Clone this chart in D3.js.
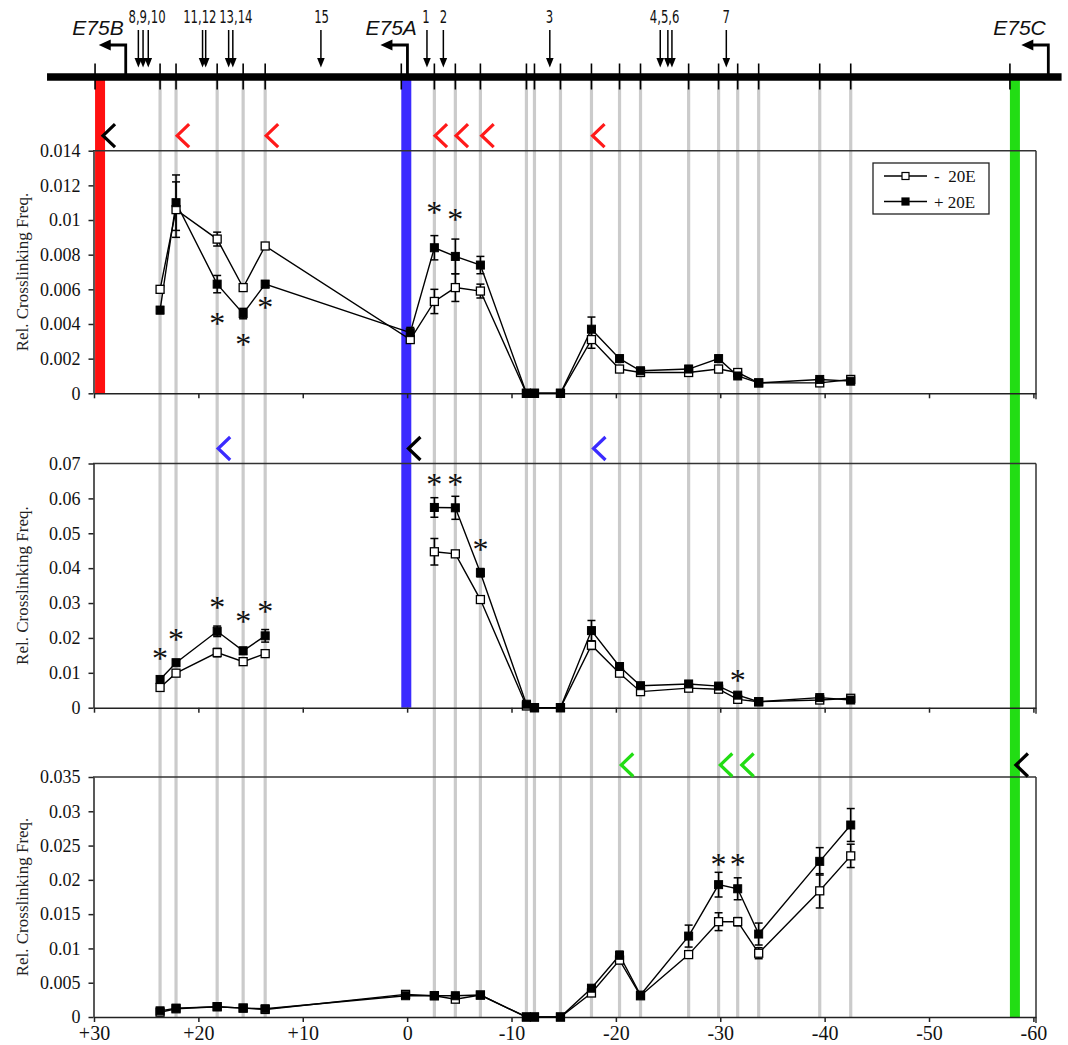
<!DOCTYPE html>
<html><head><meta charset="utf-8">
<script src="https://cdn.jsdelivr.net/npm/d3@7"></script>
<style>body{margin:0;background:#fff} svg{display:block}</style>
</head><body>
<svg id="c" width="1068" height="1045"></svg>
<script>
// ---------- DATA ----------
// restriction fragment positions (kb)
const fragPos = [23.67, 22.14, 18.20, 15.71, 13.60, -2.61, -4.62, -7.02, -11.43, -12.20, -14.69,
  -17.66, -20.35, -22.36, -26.97, -29.84, -31.67, -33.68, -39.53, -42.50];
// anchor fragments (kb) per panel
const anchorPos = [29.42, 0.08, -58.23];
const anchorColors = ["#ff1010", "#3b2bff", "#22dd14"];
// promoters
const promoterNames = ["E75B", "E75A", "E75C"];
const promoterTss = [26.96, -0.03, -61.43];
const promoterLabelPos = [29.62, 1.53, -58.67];
// numbered arrows on the gene map
const arrowLabels = ["8,9,10", "11,12", "13,14", "15", "1", "2", "3", "4,5,6", "7"];
const arrowLabelPos = [24.92, 19.86, 16.41, 8.2, -1.8, -3.47, -13.64, -24.67, -30.58];
const arrowPos = [[25.75, 25.3, 24.8], [19.6, 19.3], [17.1, 16.7], [8.26], [-1.9], [-3.47], [-13.67], [-24.25, -24.98, -25.37], [-30.58]];

// x positions of measured points (kb) per panel
const pos1 = [23.67, 22.14, 18.20, 15.71, 13.60, -0.3, -2.61, -4.62, -7.02, -11.43, -12.20, -14.69, -17.66, -20.35, -22.36, -26.97, -29.84, -31.67, -33.68, -39.53, -42.50];
const pos2 = [23.67, 22.14, 18.20, 15.71, 13.60, 0, -2.61, -4.62, -7.02, -11.43, -12.20, -14.69, -17.66, -20.35, -22.36, -26.97, -29.84, -31.67, -33.68, -39.53, -42.50];
const pos3 = [23.67, 22.14, 18.20, 15.71, 13.60, 0.15, -2.61, -4.62, -7.02, -11.43, -12.20, -14.69, -17.66, -20.35, -22.36, -26.97, -29.84, -31.67, -33.68, -39.53, -42.50];

// Panel 1 (anchor E75B)
const minus1 = [0.0060, 0.0106, 0.0089, 0.0061, 0.0085, 0.0031, 0.0053, 0.0061, 0.0059, 0, 0, 0, 0.0031, 0.0014, 0.0012, 0.0012, 0.0014, 0.0012, 0.0006, 0.0006, 0.0008];
const minusErr1 = [0.0002, 0.0016, 0.0004, 0.0001, 0.0001, 0.0002, 0.0007, 0.0008, 0.0004, 0, 0, 0, 0.0005, 0.0001, 0.0001, 0.0001, 0.0002, 0.0001, 0.0001, 0.0001, 0.0001];
const plus1 = [0.0048, 0.0110, 0.0063, 0.0046, 0.0063, 0.0035, 0.0084, 0.0079, 0.0074, 0, 0, 0, 0.0037, 0.0020, 0.0013, 0.0014, 0.0020, 0.0010, 0.0006, 0.0008, 0.0007];
const plusErr1 = [0.0002, 0.0016, 0.0005, 0.0003, 0.0002, 0.0003, 0.0007, 0.0010, 0.0005, 0, 0, 0, 0.0007, 0.0002, 0.0001, 0.0002, 0.0002, 0.0001, 0.0001, 0.0001, 0.0001];
// Panel 2 (anchor E75A)
const minus2 = [0.0058, 0.0099, 0.0158, 0.0132, 0.0155, null, 0.0447, 0.0441, 0.0310, 0.0005, 0, 0, 0.0179, 0.0099, 0.0046, 0.0056, 0.0053, 0.0024, 0.0017, 0.0022, 0.0027];
const minusErr2 = [0.0004, 0.0004, 0.0012, 0.0004, 0.0004, null, 0.0038, 0.0005, 0.0004, 0, 0, 0, 0.0012, 0.0005, 0.0003, 0.0003, 0.0004, 0.0004, 0.0002, 0.0003, 0.0003];
const plus2 = [0.0081, 0.0129, 0.0219, 0.0163, 0.0206, null, 0.0574, 0.0573, 0.0387, 0.0010, 0, 0, 0.0221, 0.0118, 0.0063, 0.0068, 0.0062, 0.0036, 0.0017, 0.0029, 0.0022];
const plusErr2 = [0.0008, 0.0007, 0.0015, 0.0010, 0.0018, null, 0.0028, 0.0033, 0.0012, 0.0003, 0, 0, 0.0029, 0.0007, 0.0006, 0.0008, 0.0006, 0.0006, 0.0002, 0.0004, 0.0003];
// Panel 3 (anchor E75C)
const minus3 = [0.0007, 0.0012, 0.0015, 0.0013, 0.0011, 0.0033, 0.0031, 0.0026, 0.0032, 0, 0, 0, 0.0035, 0.0083, 0.0031, 0.0091, 0.0139, 0.0139, 0.0093, 0.0184, 0.0235];
const minusErr3 = [0.0002, 0.0002, 0.0002, 0.0002, 0.0001, 0.0003, 0.0002, 0.0004, 0.0003, 0, 0, 0, 0.0003, 0.0005, 0.0002, 0.0004, 0.0013, 0.0006, 0.0008, 0.0025, 0.0017];
const plus3 = [0.0009, 0.0013, 0.0015, 0.0013, 0.0012, 0.0031, 0.0031, 0.0031, 0.0032, 0, 0, 0, 0.0042, 0.0090, 0.0032, 0.0118, 0.0193, 0.0187, 0.0121, 0.0227, 0.0280];
const plusErr3 = [0.0002, 0.0002, 0.0002, 0.0002, 0.0001, 0.0003, 0.0002, 0.0003, 0.0002, 0, 0, 0, 0.0004, 0.0006, 0.0002, 0.0016, 0.0018, 0.0016, 0.0016, 0.0020, 0.0024];

// significance asterisks (kb, value at asterisk centre)
const astPos1 = [18.20, 15.71, 13.60, -2.61, -4.62];
const astVal1 = [0.0043, 0.0031, 0.0052, 0.0107, 0.0103];
const astPos2 = [23.67, 22.14, 18.20, 15.71, 13.60, -2.61, -4.62, -7.02, -31.67];
const astVal2 = [0.0154, 0.0208, 0.0301, 0.0259, 0.0289, 0.0652, 0.0652, 0.0466, 0.0092];
const astPos3 = [-29.84, -31.67];
const astVal3 = [0.0229, 0.0229];

// chevrons (kb) and colours per panel
const chevPos1 = [28.56, 21.46, 12.93, -3.25, -5.26, -7.72, -18.34];
const chevCol1 = ["#000", "#ff1a1a", "#ff1a1a", "#ff1a1a", "#ff1a1a", "#ff1a1a", "#ff1a1a"];
const chevPos2 = [17.53, -0.7, -18.43];
const chevCol2 = ["#3b2bff", "#000", "#3b2bff"];
const chevPos3 = [-21.09, -30.58, -32.63, -58.9];
const chevCol3 = ["#22dd14", "#22dd14", "#22dd14", "#000"];

const yMax = [0.014, 0.07, 0.035];
const yStep = [0.002, 0.01, 0.005];
const xTicks = [30, 20, 10, 0, -10, -20, -30, -40, -50, -60];
const seriesNames = ["-\u00A0 20E", "+ 20E"];

// ---------- DRAWING ----------
const svg = d3.select("#c");
const serif = "'Liberation Serif','Times New Roman',serif";
const x = d3.scaleLinear().domain([30, -60.25]).range([94, 1036]);
const tops = [150.7, 463.5, 777];
const bottoms = [393.3, 707.7, 1017];
const geneY = 77;

const panels = [
  {pos: pos1, minus: minus1, minusErr: minusErr1, plus: plus1, plusErr: plusErr1, astP: astPos1, astV: astVal1, chevP: chevPos1, chevC: chevCol1, chevDy: 15},
  {pos: pos2, minus: minus2, minusErr: minusErr2, plus: plus2, plusErr: plusErr2, astP: astPos2, astV: astVal2, chevP: chevPos2, chevC: chevCol2, chevDy: 15},
  {pos: pos3, minus: minus3, minusErr: minusErr3, plus: plus3, plusErr: plusErr3, astP: astPos3, astV: astVal3, chevP: chevPos3, chevC: chevCol3, chevDy: 12}
];

// grey fragment lines
svg.append("g").selectAll("line").data(fragPos).join("line")
  .attr("x1", d => x(d)).attr("x2", d => x(d))
  .attr("y1", geneY + 3).attr("y2", bottoms[2])
  .attr("stroke", "#cbcbcb").attr("stroke-width", 3.2);

// anchor bars
svg.append("g").selectAll("rect").data(anchorPos).join("rect")
  .attr("x", d => x(d) - 5).attr("width", 10)
  .attr("y", geneY + 3).attr("height", (d, i) => bottoms[i] - geneY - 3)
  .attr("fill", (d, i) => anchorColors[i]);

panels.forEach((p, i) => {
  const y = d3.scaleLinear().domain([0, yMax[i]]).range([bottoms[i], tops[i]]);
  const g = svg.append("g");
  // box top and right
  g.append("line").attr("x1", x.range()[0] - 1).attr("x2", x.range()[1]).attr("y1", tops[i]).attr("y2", tops[i])
    .attr("stroke", "#333").attr("stroke-width", 1.5);
  g.append("line").attr("x1", x.range()[1]).attr("x2", x.range()[1]).attr("y1", tops[i]).attr("y2", bottoms[i] + 6)
    .attr("stroke", "#333").attr("stroke-width", 1.5);
  // y axis
  const ticks = d3.range(0, yMax[i] + yStep[i] / 2, yStep[i]);
  const ya = g.append("g").attr("transform", `translate(${x.range()[0] - 0.5},0)`)
    .call(d3.axisLeft(y).tickValues(ticks).tickSize(5).tickSizeOuter(0).tickPadding(8)
      .tickFormat(d => String(+d.toFixed(4))));
  ya.attr("font-family", serif).attr("font-size", 18);
  ya.selectAll("path,line").attr("stroke", "#222").attr("stroke-width", 1.5);
  ya.selectAll("text").attr("fill", "#111");
  // x axis
  const xa = g.append("g").attr("transform", `translate(0,${bottoms[i]})`)
    .call(d3.axisBottom(x).tickValues(xTicks).tickSize(5).tickSizeOuter(0).tickPadding(4)
      .tickFormat(d => i === 2 ? (d > 0 ? "+" + d : String(d)) : ""));
  xa.attr("font-family", serif).attr("font-size", 20);
  xa.selectAll("path,line").attr("stroke", "#222").attr("stroke-width", 1.5);
  xa.selectAll("text").attr("fill", "#111");
  // y title
  g.append("text").attr("transform", `translate(22,${(tops[i] + bottoms[i]) / 2}) rotate(-90)`)
    .attr("text-anchor", "middle").attr("dominant-baseline", "central")
    .attr("font-family", serif).attr("font-size", 17).attr("fill", "#222")
    .text("Rel. Crosslinking Freq.");

  const mk = (vals, errs) => p.pos.map((d, k) => ({p: d, v: vals[k], e: errs[k]}));
  const sets = [mk(p.minus, p.minusErr), mk(p.plus, p.plusErr)];
  const line = d3.line().defined(d => d.v != null).x(d => x(d.p)).y(d => y(d.v));
  sets.forEach(s => {
    g.append("path").datum(s).attr("d", line).attr("fill", "none").attr("stroke", "#000").attr("stroke-width", 1.4);
  });
  // error bars
  sets.forEach(s => {
    const eb = g.append("g").selectAll("g").data(s.filter(d => d.v != null && d.e > 0)).join("g");
    eb.append("line").attr("x1", d => x(d.p)).attr("x2", d => x(d.p))
      .attr("y1", d => y(d.v - d.e)).attr("y2", d => y(d.v + d.e)).attr("stroke", "#000").attr("stroke-width", 1.5);
    [-1, 1].forEach(sg => {
      eb.append("line").attr("x1", d => x(d.p) - 4).attr("x2", d => x(d.p) + 4)
        .attr("y1", d => y(d.v + sg * d.e)).attr("y2", d => y(d.v + sg * d.e))
        .attr("stroke", "#000").attr("stroke-width", 1.5);
    });
  });
  // markers
  g.append("g").selectAll("rect").data(sets[0].filter(d => d.v != null)).join("rect")
    .attr("x", d => x(d.p) - 4).attr("y", d => y(d.v) - 4).attr("width", 8).attr("height", 8)
    .attr("fill", "#fff").attr("stroke", "#000").attr("stroke-width", 1.3);
  g.append("g").selectAll("rect").data(sets[1].filter(d => d.v != null)).join("rect")
    .attr("x", d => x(d.p) - 4).attr("y", d => y(d.v) - 4).attr("width", 8).attr("height", 8)
    .attr("fill", "#000").attr("stroke", "#000").attr("stroke-width", 1);
  // asterisks
  g.append("g").selectAll("text").data(p.astP).join("text")
    .attr("x", d => x(d)).attr("y", (d, k) => y(p.astV[k]) + 15)
    .attr("text-anchor", "middle").attr("font-family", serif).attr("font-size", 32).attr("fill", "#111")
    .text("*");
  // chevrons
  g.append("g").selectAll("path").data(p.chevP).join("path")
    .attr("d", d => { const cx = x(d), cy = tops[i] - p.chevDy; return `M${cx + 6},${cy - 11.5}L${cx - 6},${cy}L${cx + 6},${cy + 11.5}`; })
    .attr("fill", "none").attr("stroke", (d, k) => p.chevC[k]).attr("stroke-width", 3.2);

  if (i === 0) {
    const lg = g.append("g");
    lg.append("rect").attr("x", 873).attr("y", 163).attr("width", 116).attr("height", 51)
      .attr("fill", "#fff").attr("stroke", "#222").attr("stroke-width", 1.3);
    seriesNames.forEach((nm, k) => {
      const ly = 176 + k * 25.5;
      lg.append("line").attr("x1", 884).attr("x2", 927).attr("y1", ly).attr("y2", ly).attr("stroke", "#000").attr("stroke-width", 1.4);
      lg.append("rect").attr("x", 902).attr("y", ly - 3.5).attr("width", 7).attr("height", 7)
        .attr("fill", k === 0 ? "#fff" : "#000").attr("stroke", "#000").attr("stroke-width", 1.2);
      lg.append("text").attr("x", 934).attr("y", ly + 6).attr("font-family", serif).attr("font-size", 17)
        .attr("fill", "#111").text(nm);
    });
  }
});

// gene line
svg.append("line").attr("x1", x(34.5)).attr("x2", x(-62.7)).attr("y1", geneY).attr("y2", geneY)
  .attr("stroke", "#000").attr("stroke-width", 7.5);
// gene ticks
const tickPos = fragPos.concat(anchorPos);
svg.append("g").selectAll("line").data(tickPos).join("line")
  .attr("x1", (d, k) => x(d) - (k >= fragPos.length ? 5 : 0)).attr("x2", (d, k) => x(d) - (k >= fragPos.length ? 5 : 0))
  .attr("y1", geneY - 13.5).attr("y2", geneY + 12.5).attr("stroke", "#000").attr("stroke-width", 1.6);

// numbered arrows
const arr = svg.append("g");
arrowPos.forEach((grp, gi) => {
  grp.forEach(a => {
    const ax = x(a);
    arr.append("line").attr("x1", ax).attr("x2", ax).attr("y1", 30).attr("y2", 60).attr("stroke", "#000").attr("stroke-width", 1.5);
    arr.append("path").attr("d", `M${ax - 3.8},58L${ax + 3.8},58L${ax},67.5Z`).attr("fill", "#000");
  });
  arr.append("text").attr("transform", `translate(${x(arrowLabelPos[gi])},23) scale(0.72,1)`)
    .attr("text-anchor", "middle")
    .attr("font-family", "'Liberation Sans Narrow','DejaVu Sans Condensed','Roboto Condensed',sans-serif")
    .attr("font-size", 18).attr("fill", "#111").text(arrowLabels[gi]);
});

// promoters
const pr = svg.append("g");
promoterTss.forEach((t, k) => {
  const tx = x(t);
  pr.append("path").attr("d", `M${tx},${geneY - 3}L${tx},45L${tx - 16},45`)
    .attr("fill", "none").attr("stroke", "#000").attr("stroke-width", 2.8);
  pr.append("path").attr("d", `M${tx - 27},45L${tx - 15},39.5L${tx - 15},50.5Z`).attr("fill", "#000");
  pr.append("text").attr("x", x(promoterLabelPos[k])).attr("y", 35).attr("text-anchor", "middle")
    .attr("font-family", "'Liberation Sans',Arial,sans-serif").attr("font-style", "italic")
    .attr("font-size", 21).attr("fill", "#111").text(promoterNames[k]);
});
</script>
</body></html>
